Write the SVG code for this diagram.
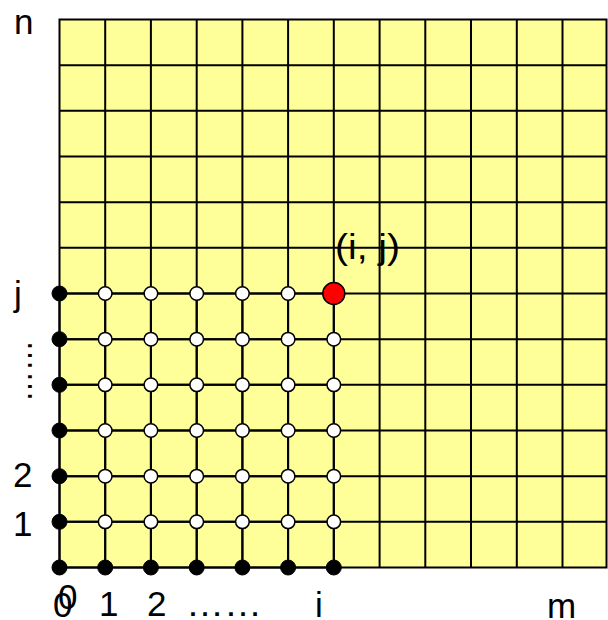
<svg xmlns="http://www.w3.org/2000/svg" width="608" height="620" viewBox="0 0 608 620">
<style>
.grid{stroke:#000;stroke-width:2;fill:none}
.edge{stroke:#000;stroke-width:2;fill:none}
.blk{fill:#000;stroke:#000;stroke-width:1}
.wht{fill:#fff;stroke:#000;stroke-width:1.5}
.red{fill:#ff0000;stroke:#000;stroke-width:1.5}
.lbl{font-family:"Liberation Sans",Arial,sans-serif;font-size:35px;fill:#000}
</style>
<rect width="608" height="620" fill="#fff"/>
<g id="grid">
<rect x="59.5" y="19.5" width="547" height="548" fill="#ffff99" stroke="#000" stroke-width="2"/>
<path class="grid" d="M105.2 19.5V567.5M150.9 19.5V567.5M196.7 19.5V567.5M242.4 19.5V567.5M288.1 19.5V567.5M333.8 19.5V567.5M379.6 19.5V567.5M425.3 19.5V567.5M471 19.5V567.5M516.8 19.5V567.5M562.5 19.5V567.5"/>
<path class="grid" d="M59.5 65.2H606.5M59.5 110.8H606.5M59.5 156.5H606.5M59.5 202.2H606.5M59.5 247.8H606.5M59.5 293.5H606.5M59.5 339.2H606.5M59.5 384.8H606.5M59.5 430.5H606.5M59.5 476.2H606.5M59.5 521.8H606.5"/>
</g>
<g id="connectors">
<path class="edge" d="M59.5 567.5H333.8M59.5 521.8H333.8M59.5 476.2H333.8M59.5 430.5H333.8M59.5 384.8H333.8M59.5 339.2H333.8M59.5 293.5H333.8"/>
<path class="edge" d="M59.5 293.5V567.5M105.2 293.5V567.5M150.9 293.5V567.5M196.7 293.5V567.5M242.4 293.5V567.5M288.1 293.5V567.5M333.8 293.5V567.5"/>
</g>
<g id="nodes-left">
<g id="n0-0"><circle class="blk" cx="59.5" cy="567.5" r="7.5"/></g>
<g id="n0-1"><circle class="blk" cx="59.5" cy="521.8" r="7.5"/></g>
<g id="n0-2"><circle class="blk" cx="59.5" cy="476.2" r="7.5"/></g>
<g id="n0-3"><circle class="blk" cx="59.5" cy="430.5" r="7.5"/></g>
<g id="n0-4"><circle class="blk" cx="59.5" cy="384.8" r="7.5"/></g>
<g id="n0-5"><circle class="blk" cx="59.5" cy="339.2" r="7.5"/></g>
<g id="n0-6"><circle class="blk" cx="59.5" cy="293.5" r="7.5"/></g>
</g>
<g id="nodes-bottom">
<g id="n1-0"><circle class="blk" cx="105.2" cy="567.5" r="7.5"/></g>
<g id="n2-0"><circle class="blk" cx="150.9" cy="567.5" r="7.5"/></g>
<g id="n3-0"><circle class="blk" cx="196.7" cy="567.5" r="7.5"/></g>
<g id="n4-0"><circle class="blk" cx="242.4" cy="567.5" r="7.5"/></g>
<g id="n5-0"><circle class="blk" cx="288.1" cy="567.5" r="7.5"/></g>
<g id="n6-0"><circle class="blk" cx="333.8" cy="567.5" r="7.5"/></g>
</g>
<g id="nodes-inner">
<g id="n1-1"><circle class="wht" cx="105.2" cy="521.8" r="6.8"/></g>
<g id="n2-1"><circle class="wht" cx="150.9" cy="521.8" r="6.8"/></g>
<g id="n3-1"><circle class="wht" cx="196.7" cy="521.8" r="6.8"/></g>
<g id="n4-1"><circle class="wht" cx="242.4" cy="521.8" r="6.8"/></g>
<g id="n5-1"><circle class="wht" cx="288.1" cy="521.8" r="6.8"/></g>
<g id="n6-1"><circle class="wht" cx="333.8" cy="521.8" r="6.8"/></g>
<g id="n1-2"><circle class="wht" cx="105.2" cy="476.2" r="6.8"/></g>
<g id="n2-2"><circle class="wht" cx="150.9" cy="476.2" r="6.8"/></g>
<g id="n3-2"><circle class="wht" cx="196.7" cy="476.2" r="6.8"/></g>
<g id="n4-2"><circle class="wht" cx="242.4" cy="476.2" r="6.8"/></g>
<g id="n5-2"><circle class="wht" cx="288.1" cy="476.2" r="6.8"/></g>
<g id="n6-2"><circle class="wht" cx="333.8" cy="476.2" r="6.8"/></g>
<g id="n1-3"><circle class="wht" cx="105.2" cy="430.5" r="6.8"/></g>
<g id="n2-3"><circle class="wht" cx="150.9" cy="430.5" r="6.8"/></g>
<g id="n3-3"><circle class="wht" cx="196.7" cy="430.5" r="6.8"/></g>
<g id="n4-3"><circle class="wht" cx="242.4" cy="430.5" r="6.8"/></g>
<g id="n5-3"><circle class="wht" cx="288.1" cy="430.5" r="6.8"/></g>
<g id="n6-3"><circle class="wht" cx="333.8" cy="430.5" r="6.8"/></g>
<g id="n1-4"><circle class="wht" cx="105.2" cy="384.8" r="6.8"/></g>
<g id="n2-4"><circle class="wht" cx="150.9" cy="384.8" r="6.8"/></g>
<g id="n3-4"><circle class="wht" cx="196.7" cy="384.8" r="6.8"/></g>
<g id="n4-4"><circle class="wht" cx="242.4" cy="384.8" r="6.8"/></g>
<g id="n5-4"><circle class="wht" cx="288.1" cy="384.8" r="6.8"/></g>
<g id="n6-4"><circle class="wht" cx="333.8" cy="384.8" r="6.8"/></g>
<g id="n1-5"><circle class="wht" cx="105.2" cy="339.2" r="6.8"/></g>
<g id="n2-5"><circle class="wht" cx="150.9" cy="339.2" r="6.8"/></g>
<g id="n3-5"><circle class="wht" cx="196.7" cy="339.2" r="6.8"/></g>
<g id="n4-5"><circle class="wht" cx="242.4" cy="339.2" r="6.8"/></g>
<g id="n5-5"><circle class="wht" cx="288.1" cy="339.2" r="6.8"/></g>
<g id="n6-5"><circle class="wht" cx="333.8" cy="339.2" r="6.8"/></g>
<g id="n1-6"><circle class="wht" cx="105.2" cy="293.5" r="6.8"/></g>
<g id="n2-6"><circle class="wht" cx="150.9" cy="293.5" r="6.8"/></g>
<g id="n3-6"><circle class="wht" cx="196.7" cy="293.5" r="6.8"/></g>
<g id="n4-6"><circle class="wht" cx="242.4" cy="293.5" r="6.8"/></g>
<g id="n5-6"><circle class="wht" cx="288.1" cy="293.5" r="6.8"/></g>
</g>
<g id="node-ij">
<circle class="red" cx="333.8" cy="293.5" r="11"/>
<text class="lbl" x="335" y="259" textLength="65" lengthAdjust="spacingAndGlyphs">(i, j)</text>
</g>
<g id="labels">
<text class="lbl" x="14" y="34">n</text>
<text class="lbl" x="14" y="306">j</text>
<text class="lbl" x="28" y="340" transform="rotate(90 28 340)" textLength="62" lengthAdjust="spacingAndGlyphs">……</text>
<text class="lbl" x="13" y="487">2</text>
<text class="lbl" x="13" y="536">1</text>
<text class="lbl" x="53" y="617">0</text>
<text class="lbl" x="58" y="609">0</text>
<text class="lbl" x="99" y="616">1</text>
<text class="lbl" x="147" y="616">2</text>
<text class="lbl" x="186" y="616" textLength="76" lengthAdjust="spacingAndGlyphs">……</text>
<text class="lbl" x="315" y="617">i</text>
<text class="lbl" x="547" y="618">m</text>
</g>
</svg>
